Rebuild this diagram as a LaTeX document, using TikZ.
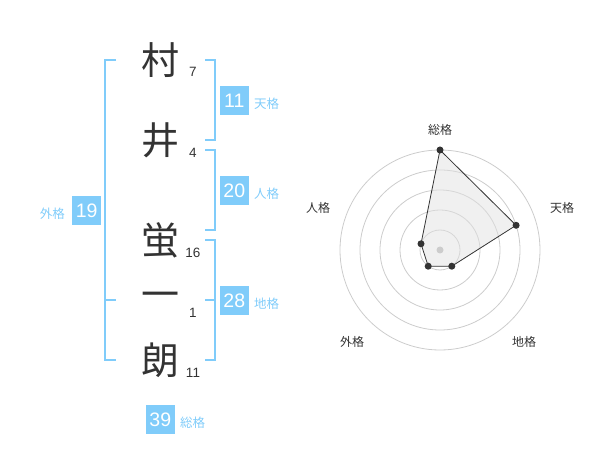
\documentclass[tikz,border=0pt]{standalone}
\usepackage{fontspec}
\setmainfont{Liberation Sans}
\newfontfamily\jp{Noto Sans CJK JP}
\usetikzlibrary{positioning}
\definecolor{kakublue}{RGB}{128,204,250}
\definecolor{inkgray}{RGB}{51,51,51}
\definecolor{ringgray}{RGB}{204,204,204}
\definecolor{areagray}{RGB}{225,225,225}

\begin{document}
\begin{tikzpicture}[x=1pt,y=-1pt,
  kanji/.style={inner sep=0pt,text=inkgray,font=\jp\fontsize{38}{38}\selectfont},
  strokes/.style={inner sep=0pt,text=inkgray,font=\fontsize{13.5}{13.5}\selectfont},
  kakubox/.style={fill=kakublue,text=white,minimum size=29pt,inner sep=0pt,font=\fontsize{19.5}{19.5}\selectfont},
  kakuname/.style={inner sep=0pt,text=kakublue,font=\jp\fontsize{12.5}{12.5}\selectfont},
  bracket/.style={draw=kakublue,line width=2pt},
  ring/.style={draw=ringgray,line width=0.8pt},
  axisname/.style={inner sep=0pt,text=inkgray,font=\jp\fontsize{12}{12}\selectfont}]
 \useasboundingbox (0,0) rectangle (600,470);

 % name characters
 \node[kanji] (c1) at (160,60) {村};
 \node[kanji] (c2) at (160,140) {井};
 \node[kanji] (c3) at (160,240) {蛍};
 \node[kanji] (c4) at (160,300) {一};
 \node[kanji] (c5) at (160,360) {朗};
 \node[strokes] (s1) at (193,72) {7};
 \node[strokes] (s2) at (193,153) {4};
 \node[strokes] (s3) at (193,253) {16};
 \node[strokes] (s4) at (193,313) {1};
 \node[strokes] (s5) at (193,373) {11};

 % brackets
 \draw[bracket] (116,60)--(105,60)--(105,360)--(116,360);
 \draw[bracket] (105,300)--(116,300);
 \draw[bracket] (205,60)--(215,60)--(215,140)--(205,140);
 \draw[bracket] (205,150)--(215,150)--(215,230)--(205,230);
 \draw[bracket] (205,240)--(215,240)--(215,360)--(205,360);
 \draw[bracket] (205,300)--(215,300);

 % kaku values
 \node[kakubox] (ten) at (234.3,100.3) {11};
 \node[kakuname,anchor=west] (tenname) at (254,104) {天格};
 \node[kakubox] (jin) at (234.3,190.3) {20};
 \node[kakuname,anchor=west] (jinname) at (254,193.5) {人格};
 \node[kakubox] (chi) at (234.3,300.3) {28};
 \node[kakuname,anchor=west] (chiname) at (254,304) {地格};
 \node[kakubox] (gai) at (86.7,210.3) {19};
 \node[kakuname,anchor=east] (gainame) at (65,214) {外格};
 \node[kakubox] (sou) at (160.3,419.3) {39};
 \node[kakuname,anchor=west] (souname) at (180,423) {総格};

 % radar chart
 \draw[ring] (440,250) circle (20);
 \draw[ring] (440,250) circle (40);
 \draw[ring] (440,250) circle (60);
 \draw[ring] (440,250) circle (80);
 \draw[ring] (440,250) circle (100);
 \coordinate (psou) at (440,150);
 \coordinate (pten) at (516.1,225.3);
 \coordinate (pchi) at (451.8,266.2);
 \coordinate (pgai) at (428.2,266.2);
 \coordinate (pjin) at (421.0,243.8);
 \draw[fill=areagray,fill opacity=0.5,draw=inkgray,line width=0.8pt]
   (psou)--(pten)--(pchi)--(pgai)--(pjin)--cycle;
 \fill[ringgray] (440,250) circle (3.5);
 \fill[inkgray] (psou) circle (3.5);
 \fill[inkgray] (pten) circle (3.5);
 \fill[inkgray] (pchi) circle (3.5);
 \fill[inkgray] (pgai) circle (3.5);
 \fill[inkgray] (pjin) circle (3.5);
 \node[axisname] (lsou) at (440,130) {総格};
 \node[axisname] (lten) at (562,208) {天格};
 \node[axisname] (lchi) at (524,342) {地格};
 \node[axisname] (lgai) at (352,342) {外格};
 \node[axisname] (ljin) at (318,208) {人格};
\end{tikzpicture}
\end{document}
